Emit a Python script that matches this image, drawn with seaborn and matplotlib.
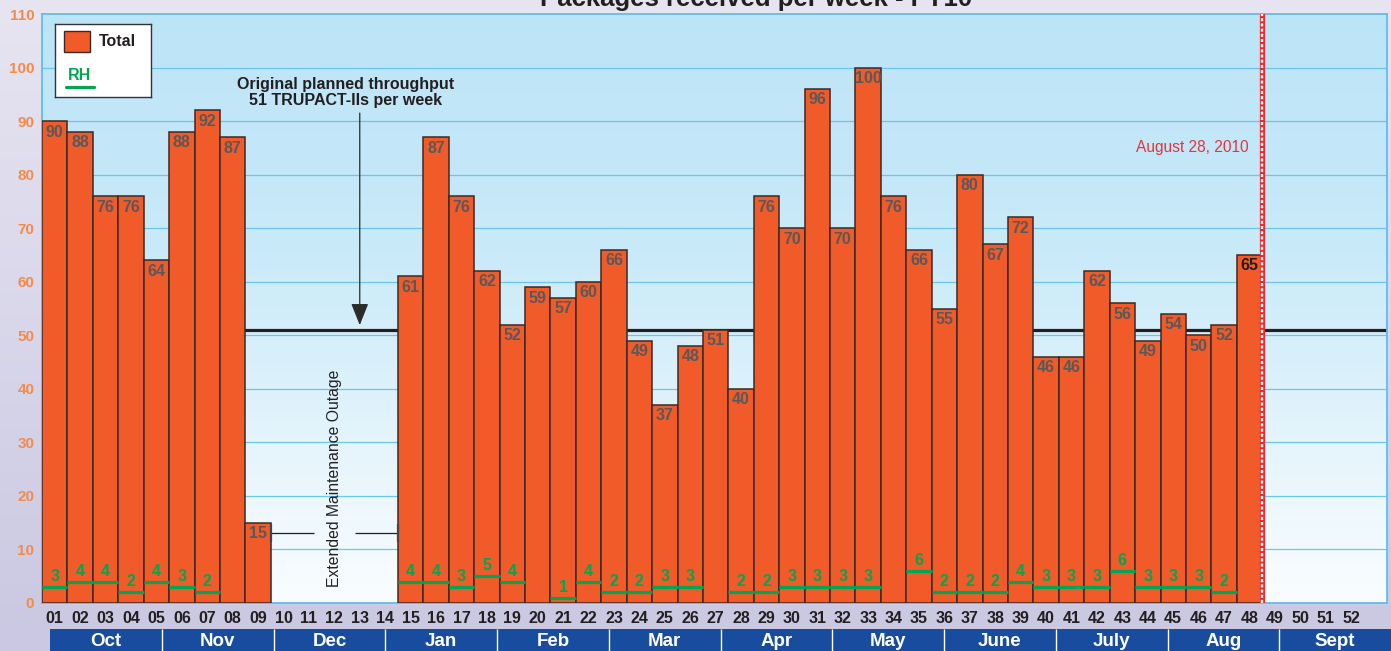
import matplotlib
matplotlib.use("Agg")
import numpy as np
import pandas as pd
import matplotlib.pyplot as plt
import seaborn as sns
from matplotlib.colors import LinearSegmentedColormap
from matplotlib.patches import Rectangle

# ---- data -------------------------------------------------------------
weeks = ["01", "02", "03", "04", "05", "06", "07", "08", "09", "10", "11", "12", "13",
         "14", "15", "16", "17", "18", "19", "20", "21", "22", "23", "24", "25", "26",
         "27", "28", "29", "30", "31", "32", "33", "34", "35", "36", "37", "38", "39",
         "40", "41", "42", "43", "44", "45", "46", "47", "48", "49", "50", "51", "52"]

totals = [90, 88, 76, 76, 64, 88, 92, 87, 15, None, None, None, None, None,
          61, 87, 76, 62, 52, 59, 57, 60, 66, 49, 37, 48, 51, 40, 76, 70, 96, 70,
          100, 76, 66, 55, 80, 67, 72, 46, 46, 62, 56, 49, 54, 50, 52, 65,
          None, None, None, None]

rh = [3, 4, 4, 2, 4, 3, 2, None, None, None, None, None, None, None,
      4, 4, 3, 5, 4, None, 1, 4, 2, 2, 3, 3, None, 2, 2, 3, 3, 3, 3, None,
      6, 2, 2, 2, 4, 3, 3, 3, 6, 3, 3, 3, 2, None,
      None, None, None, None]

months = ["Oct", "Nov", "Dec", "Jan", "Feb", "Mar", "Apr", "May", "June", "July", "Aug", "Sept"]

planned_throughput = 51
cutoff_week = "48"
cutoff_label = "August 28, 2010"

# ---- style ------------------------------------------------------------
sns.set_style("white")
plt.rcParams["font.family"] = ["Liberation Sans", "DejaVu Sans"]

W, H = 1391, 651
ORANGE = "#F15A29"
EDGE = "#3B2A24"
GREEN = "#00A651"
DARK = "#231F20"

fig = plt.figure(figsize=(W / 100, H / 100), dpi=100)

# lavender page background
bg = fig.add_axes([0, 0, 1, 1], zorder=-5)
bg.axis("off")
page_cmap = LinearSegmentedColormap.from_list("page", ["#E7E5F1", "#CAC8E2"])
bg.imshow(np.linspace(0, 1, 256).reshape(-1, 1), cmap=page_cmap, aspect="auto",
          extent=(0, 1, 0, 1), origin="upper")

# main plot area
ax = fig.add_axes([42 / W, 1 - 603 / H, 1345 / W, 589 / H])
sky = LinearSegmentedColormap.from_list(
    "sky", [(0, "#BCE4F7"), (0.4, "#C9EAF9"), (0.75, "#E6F5FC"), (1, "#FAFDFF")])
ax.imshow(np.linspace(0, 1, 256).reshape(-1, 1), cmap=sky, aspect="auto",
          extent=(0, 1, 0, 1), transform=ax.transAxes, origin="upper", zorder=0)

for v in range(10, 110, 10):
    ax.axhline(v, color="#6CC5EE", lw=0.9, zorder=1)
ax.axhline(planned_throughput, color=DARK, lw=2.3, zorder=1.5)

df = pd.DataFrame({"week": weeks, "total": totals}).dropna()
sns.barplot(data=df, x="week", y="total", order=weeks, color=ORANGE, saturation=1,
            width=1.0, edgecolor=EDGE, linewidth=1.1, errorbar=None, ax=ax, zorder=3)

pos = {w: i for i, w in enumerate(weeks)}

# value labels inside the bar tops
for w, v in zip(weeks, totals):
    if v is None:
        continue
    col = DARK if w == cutoff_week else "#58595B"
    ax.annotate(str(v), (pos[w], v), xytext=(0, -2.5), textcoords="offset points",
                ha="center", va="top", fontsize=11.5, fontweight="bold", color=col, zorder=5)

# RH segments and their labels
for w, v in zip(weeks, rh):
    if v is None:
        continue
    i = pos[w]
    ax.hlines(v, i - 0.5, i + 0.5, color=GREEN, lw=2.3, zorder=4)
    ax.annotate(str(v), (i, v), xytext=(0, 2.2), textcoords="offset points",
                ha="center", va="bottom", fontsize=11.5, fontweight="bold", color=GREEN, zorder=5)

# planned throughput callout
ax.annotate("", xy=(12.0, 51.9), xytext=(12.0, 91.5),
            arrowprops=dict(arrowstyle="-|>,head_length=0.5,head_width=0.2",
                            mutation_scale=27, lw=0.9, color="#2B2B2B",
                            shrinkA=0, shrinkB=0), zorder=6)
ax.text(11.46, 95.3, "Original planned throughput\n51 TRUPACT-IIs per week",
        ha="center", va="center", fontsize=11.5, fontweight="bold", color=DARK,
        linespacing=1.1, zorder=6)

# maintenance outage marker
ax.text(11.0, 23.2, "Extended Maintenance Outage", rotation=90, ha="center", va="center",
        fontsize=11.3, color=DARK, zorder=6)
ax.hlines(13.1, 8.5, 10.2, color=DARK, lw=0.9, zorder=6)
ax.hlines(13.1, 11.8, 13.5, color=DARK, lw=0.9, zorder=6)
ax.vlines([8.5, 13.5], 11.4, 14.8, color="#444444", lw=1.6, zorder=6)

# reporting cut-off line
cx = pos[cutoff_week] + 0.5
ax.axvline(cx, color="#EE2A2F", lw=3.8, zorder=7)
ax.axvline(cx, color="white", lw=1.7, dashes=(1.3, 0.9), zorder=8)
ax.text(cx - 0.55, 85.0, cutoff_label, ha="right", va="center", fontsize=11.2,
        color="#E8333B", zorder=6)

ax.set_xlim(-0.5, 52.41)
ax.set_ylim(0, 110)
ax.set_yticks(range(0, 111, 10))
ax.set_xlabel("")
ax.set_ylabel("")
ax.tick_params(axis="y", length=0, pad=5.5, labelsize=11, labelcolor="#F58A4B")
ax.tick_params(axis="x", length=0, pad=5.5, labelsize=11.5, labelcolor=DARK)
for lbl in ax.get_xticklabels() + ax.get_yticklabels():
    lbl.set_fontweight("bold")
for s in ax.spines.values():
    s.set_visible(True)
    s.set_color("#5FBEEB")
    s.set_linewidth(1.3)

# legend box
lg = fig.add_axes([55 / W, 1 - 97 / H, 96 / W, 73 / H], zorder=5)
lg.set_xlim(0, 96)
lg.set_ylim(73, 0)
lg.set_xticks([])
lg.set_yticks([])
lg.set_facecolor("white")
for s in lg.spines.values():
    s.set_color("#333333")
    s.set_linewidth(1.0)
lg.add_patch(Rectangle((9, 7), 26, 21, facecolor=ORANGE, edgecolor=EDGE, lw=1.0))
lg.text(44, 17.5, "Total", ha="left", va="center", fontsize=11.5, fontweight="bold", color=DARK)
lg.text(13, 51, "RH", ha="left", va="center", fontsize=11.5, fontweight="bold", color=GREEN)
lg.plot([11, 39], [63, 63], color=GREEN, lw=2.3)

# month band
ma = fig.add_axes([50 / W, 0, (W - 50) / W, 22 / H])
ma.set_xlim(0, len(months))
ma.set_ylim(0, 1)
ma.axis("off")
ma.bar(np.arange(len(months)) + 0.5, 1, width=1.0, color="#174C9F", linewidth=0)
ma.vlines(np.arange(1, len(months)), 0, 1, color="white", lw=1.0)
for i, m in enumerate(months):
    ma.text(i + 0.5, 0.42, m, ha="center", va="center", fontsize=13.5,
            fontweight="bold", color="white")

fig.text(756 / W, 1 - 6 / H, "Packages received per week - FY10", ha="center",
         va="baseline", fontsize=18.5, fontweight="bold", color=DARK)

fig.savefig("out.png", dpi=100)
